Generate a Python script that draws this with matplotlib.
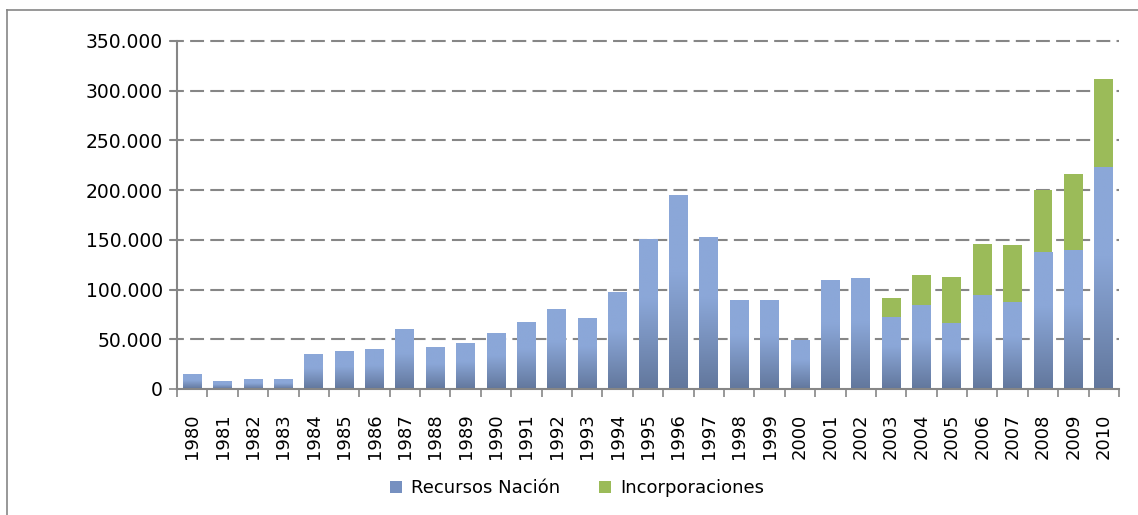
#!/usr/bin/env python3
"""Stacked bars: Recursos Nación + Incorporaciones, 1980-2010."""

import numpy as np
import matplotlib

matplotlib.use("Agg")
import matplotlib.pyplot as plt
from matplotlib.lines import Line2D
from matplotlib.patches import Patch
from matplotlib.colors import LinearSegmentedColormap
from matplotlib.ticker import FuncFormatter, FixedLocator


years = [str(y) for y in range(1980, 2011)]
recursos_nacion = [
    15000, 8000, 10000, 10000, 35000, 38000, 40000, 60000, 42000, 46000,
    56000, 67000, 80000, 71000, 98000, 151000, 195000, 153000, 90000, 90000,
    49000, 110000, 112000, 72000, 84000, 66000, 95000, 88000, 138000, 140000,
    223000,
]
incorporaciones = [0] * 23 + [20000, 31000, 47000, 51000, 57000, 62000, 76000, 89000]

BLUE_TOP = "#8ba7d8"
BLUE_BOTTOM = "#62779c"
GREEN = "#9bbb59"
GRAY = "#868686"

plt.rcParams["font.family"] = ["DejaVu Sans"]
plt.rcParams["lines.scale_dashes"] = False

fig = plt.figure(figsize=(11.38, 5.15), dpi=100)
ax = fig.add_axes([177 / 1138, 1 - 389 / 515, (1119 - 177) / 1138, (389 - 41) / 515])

x = np.arange(len(years))
width = 0.62
blue_bars = ax.bar(x, recursos_nacion, width, color=BLUE_TOP, linewidth=0, zorder=2)
ax.bar(x, incorporaciones, width, bottom=recursos_nacion, color=GREEN, linewidth=0, zorder=2)

# vertical gradient on the blue bars, light at the top, darker at the base
cmap = LinearSegmentedColormap.from_list(
    "blue_grad", [(0.0, BLUE_BOTTOM), (0.6, BLUE_TOP), (1.0, BLUE_TOP)]
)
grad = np.linspace(0, 1, 256).reshape(-1, 1)
for rect in blue_bars:
    x0, y0 = rect.get_x(), rect.get_y()
    w, h = rect.get_width(), rect.get_height()
    im = ax.imshow(
        grad, cmap=cmap, origin="lower", aspect="auto",
        extent=[x0, x0 + w, y0, y0 + h], zorder=2.1, interpolation="bilinear",
    )
    im.set_clip_path(rect)

ax.set_xlim(-0.5, len(years) - 0.5)
ax.set_ylim(0, 350000)

ax.yaxis.set_major_locator(FixedLocator(np.arange(0, 350001, 50000)))
ax.yaxis.set_major_formatter(FuncFormatter(lambda v, _: f"{int(v):,}".replace(",", ".")))
ax.tick_params(axis="y", direction="out", length=6, width=1.2, color=GRAY,
               labelsize=13.5, pad=4)

ax.set_xticks(x)
ax.set_xticklabels(years, rotation=90, fontsize=13)
ax.set_xticks(np.arange(-0.5, len(years), 1.0), minor=True)
ax.tick_params(axis="x", which="major", length=0, pad=17.5)
ax.tick_params(axis="x", which="minor", direction="out", length=6, width=1.2, color=GRAY)

for y in np.arange(50000, 350001, 50000):
    ax.axhline(y, color=GRAY, linewidth=1.5, linestyle=(0, (10, 4.5)), zorder=1,
               xmin=-7 / 942, clip_on=False)

for side in ("top", "right"):
    ax.spines[side].set_visible(False)
for side in ("left", "bottom"):
    ax.spines[side].set_color(GRAY)
    ax.spines[side].set_linewidth(1.5)

handles = [
    Patch(facecolor="#7690c0", edgecolor="none", label="Recursos Nación"),
    Patch(facecolor=GREEN, edgecolor="none", label="Incorporaciones"),
]
fig.legend(
    handles=handles, loc="center", bbox_to_anchor=(0.507, 0.052), ncol=2,
    frameon=False, fontsize=13, handlelength=0.65, handleheight=0.65,
    handletextpad=0.5, columnspacing=2.2,
)

# outer chart frame (only top/left edges show in the image)
fig.add_artist(Line2D([7 / 1138, 7 / 1138], [0, 1 - 10 / 515], color=GRAY, lw=1.2))
fig.add_artist(Line2D([7 / 1138, 1], [1 - 10 / 515, 1 - 10 / 515], color=GRAY, lw=1.2))

fig.savefig("out.png", dpi=100)
